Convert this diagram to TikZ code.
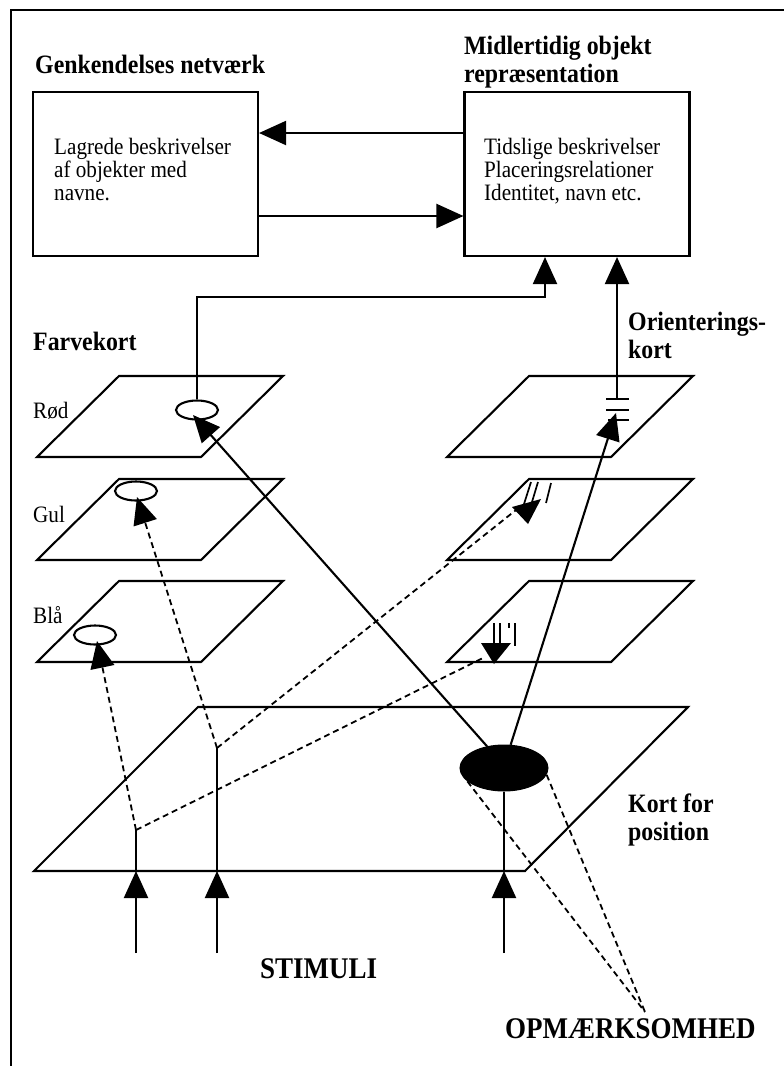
\documentclass[tikz,border=0pt]{standalone}
\usepackage{fontspec}
\setmainfont{Liberation Serif}[FakeStretch=0.9]
\usetikzlibrary{arrows.meta,shapes.geometric}
\begin{document}
\begin{tikzpicture}[x=1pt,y=-1pt,
  line/.style={line width=2.1pt, line join=miter},
  thin/.style={line width=1.7pt},
  tip/.style={-{Triangle[length=27pt,width=24pt]}},
  arr/.style={line width=2.1pt, tip},
  darr/.style={line width=1.8pt, dash pattern=on 6pt off 4pt, tip},
  dline/.style={line width=1.8pt, dash pattern=on 6pt off 4pt},
  box/.style={draw, line width=2.1pt, minimum width=225pt, minimum height=164pt, inner sep=0},
  spot/.style={draw, ellipse, line width=2.1pt, minimum width=42pt, minimum height=19pt, inner sep=0},
  txt/.style={anchor=base west, inner sep=0, font=\fontsize{23.5}{26}\selectfont},
  head/.style={anchor=base west, inner sep=0, font=\fontsize{26.5}{30}\selectfont\bfseries},
  big/.style={anchor=base west, inner sep=0, font=\fontsize{30}{34}\selectfont\bfseries},
]
\useasboundingbox (0,0) rectangle (784,1066);

% outer frame
\draw[line] (11,1080) -- (11,10) -- (800,10);

% headings
\node[head] (hgenk) at (35,73) {Genkendelses netværk};
\node[head] (hmid1) at (464,54) {Midlertidig objekt};
\node[head] (hmid2) at (464,82) {repræsentation};

% the two boxes
\node[box] (genk) at (145.5,174) {};
\node[box] (midl) at (577,174) {};
\node[txt] (g1) at (54,154) {Lagrede beskrivelser};
\node[txt] (g2) at (54,177) {af objekter med};
\node[txt] (g3) at (54,200) {navne.};
\node[txt] (m1) at (484,154) {Tidslige beskrivelser};
\node[txt] (m2) at (484,177) {Placeringsrelationer};
\node[txt] (m3) at (484,200) {Identitet, navn etc.};

\coordinate (upper) at (0,133);
\coordinate (lower) at (0,216);
\draw[arr] (midl.west |- upper) -- (genk.east |- upper);
\draw[arr] (genk.east |- lower) -- (midl.west |- lower);

% colour maps and orientation maps
\foreach \yb in {457,560,662}{
  \draw[line] (37,\yb) -- (201,\yb) -- (283,\yb-81) -- (119,\yb-81) -- cycle;
  \draw[line] (447,\yb) -- (611,\yb) -- (693,\yb-81) -- (529,\yb-81) -- cycle;
}
% map of positions
\draw[line] (34,871) -- (525,871) -- (688,707) -- (198,707) -- cycle;

\node[head] (hfarve) at (33,350) {Farvekort};
\node[txt] (lrod) at (33,418) {Rød};
\node[txt] (lgul) at (33,522) {Gul};
\node[txt] (lbla) at (33,623) {Blå};
\node[head] (hori1) at (628,330) {Orienterings-};
\node[head] (hori2) at (628,358) {kort};
\node[head] (hpos1) at (628,812) {Kort for};
\node[head] (hpos2) at (628,840) {position};
\node[big] (stim) at (260,978) {STIMULI};
\node[big] (opm) at (505,1038) {OPMÆRKSOMHED};

% feature spots
\node[spot] (rod) at (197,410) {};
\node[spot] (gul) at (136,491) {};
\node[spot] (bla) at (95,635) {};
\node[ellipse, fill=black, draw, line width=1pt, minimum width=88pt, minimum height=46pt, inner sep=0] (att) at (504,768) {};

% orientation marks
\draw[thin] (606,399) -- (629,399) (606,410) -- (629,410) (608,420) -- (629,420);
\draw[thin] (531,482) -- (524,504) (538,482) -- (532,502) (551,483) -- (546,503);
\fill (512,507) -- (541,499) -- (528,524) -- cycle;
\draw[thin] (494,623) -- (494,643) (500,623) -- (500,643) (509,623) -- (509,628) (515,623) -- (515,646);
\fill (481,643) -- (511,643) -- (494,664) -- cycle;

\coordinate (horiz) at (617,399);
\coordinate (oblique) at (516,510);
\coordinate (vertical) at (485,657);
\coordinate (bend) at (545,297);
\coordinate (rodtip) at (193,415);
\coordinate (gultip) at (137,497);
\coordinate (blatip) at (97,641);
\coordinate (horiztip) at (616,413);
\coordinate (focus) at (645,1012);

% into the object representation
\draw[arr] (rod.north) -- (rod.north |- bend) -- (bend) -- (bend |- midl.south);
\draw[arr] (horiz) -- (horiz |- midl.south);

% stimuli
\coordinate (s1) at (136,953);
\coordinate (s2) at (217,953);
\coordinate (s3) at (504,953);
\coordinate (e1) at (136,871);
\coordinate (e2) at (217,871);
\coordinate (e3) at (504,871);
\coordinate (j1) at (136,830);
\coordinate (j2) at (217,748);
\draw[arr] (s1) -- (e1);
\draw[arr] (s2) -- (e2);
\draw[arr] (s3) -- (e3);
\draw[line] (e1) -- (j1);
\draw[line] (e2) -- (j2);
\draw[line] (e3) -- (att.south);

\draw[darr] (j1) -- (blatip);
\draw[dline] (j1) -- (vertical);
\draw[darr] (j2) -- (gultip);
\draw[dline] (j2) -- (oblique);

\draw[arr] (att.128) -- (rodtip);
\draw[arr] (att.74) -- (horiztip);

\draw[dline] (att.200) -- (focus);
\draw[dline] (att.351) -- (focus);
\end{tikzpicture}
\end{document}
